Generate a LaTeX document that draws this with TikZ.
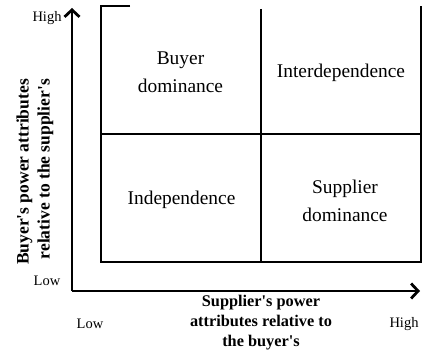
\documentclass[tikz,border=0pt]{standalone}
\usepackage{fontspec}
\setmainfont{Liberation Serif}
\usetikzlibrary{arrows.meta}
\begin{document}
\begin{tikzpicture}[x=1pt,y=-1pt,
  boxline/.style={line width=1.3pt},
  axisline/.style={line width=2.8pt,-{Straight Barb[length=7pt,width=15pt,line width=2.8pt]}},
  quad/.style={inner sep=0pt,align=center,font=\fontsize{19.4}{28}\selectfont},
  ticklab/.style={inner sep=0pt,font=\fontsize{14.5}{17}\selectfont},
  axtitle/.style={inner sep=0pt,align=center,font=\bfseries\fontsize{16.3}{20}\selectfont}]
\useasboundingbox (0,0) rectangle (428,358);
% box
\coordinate (tl) at (101,6);
\coordinate (tlend) at (130,6);
\coordinate (bl) at (101,262);
\coordinate (br) at (421,262);
\coordinate (tr) at (421,6);
\coordinate (mt) at (261,9);
\coordinate (mb) at (261,262);
\coordinate (ml) at (101,134);
\coordinate (mr) at (421,134);
\draw[boxline] (tlend) -- (tl) -- (bl) -- (br) -- (tr);
\draw[boxline] (mt) -- (mb);
\draw[boxline] (ml) -- (mr);
% axes
\coordinate (o) at (72,291);
\coordinate (ytip) at (72,8);
\coordinate (xtip) at (420,291);
\draw[axisline] (o) -- (ytip);
\draw[axisline] (o) -- (xtip);
% quadrant labels
\node[quad] (bd) at (180.5,72.5) {Buyer\\dominance};
\node[quad] (inter) at (341,73) {Interdependence};
\node[quad] (indep) at (181.5,200) {Independence};
\node[quad] (sd) at (345,201) {Supplier\\dominance};
% ticks
\node[ticklab] (yhigh) at (47,18) {High};
\node[ticklab] (ylow) at (47,281) {Low};
\node[ticklab] (xlow) at (90,324) {Low};
\node[ticklab] (xhigh) at (404,324) {High};
% axis titles
\node[axtitle] (xt) at (261,323) {Supplier\textquotesingle s power\\attributes relative to\\the buyer\textquotesingle s};
\node[axtitle,align=right,rotate=90,font=\bfseries\fontsize{17.5}{21}\selectfont] (yt) at (35,172) {Buyer\textquotesingle s power attributes\\relative to the supplier\textquotesingle s};
\end{tikzpicture}
\end{document}
